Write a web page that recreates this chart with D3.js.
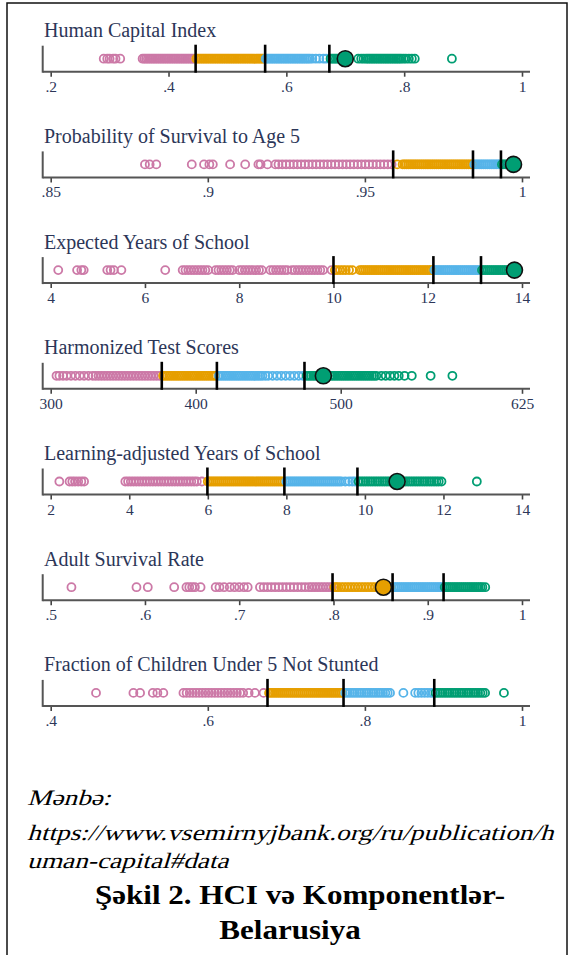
<!DOCTYPE html>
<html><head><meta charset="utf-8">
<script src="https://cdn.jsdelivr.net/npm/d3@7/dist/d3.min.js"></script>
<style>body{margin:0;background:#fff}svg{display:block}</style>
</head><body>
<svg id="chart" width="571" height="955"></svg>
<script>
// ---------- DATA ----------
const panelTitles = [
  "Human Capital Index",
  "Probability of Survival to Age 5",
  "Expected Years of School",
  "Harmonized Test Scores",
  "Learning-adjusted Years of School",
  "Adult Survival Rate",
  "Fraction of Children Under 5 Not Stunted"
];

const hciDomain = [0.2, 1];
const hciTicks = [0.2, 0.4, 0.6, 0.8, 1];
const hciTickLabels = [".2", ".4", ".6", ".8", "1"];
const hciQuartiles = [0.446, 0.564, 0.673];
const hciBelarus = 0.70;
const hciValues = [0.29,0.296,0.30,0.306,0.31,0.318,
  0.356,0.359,0.362,0.365,0.368,0.371,0.374,0.377,0.380,0.383,0.386,0.389,0.392,0.395,0.398,0.401,0.404,0.407,0.410,0.413,0.416,0.419,0.422,0.425,0.428,0.431,0.434,0.437,0.440,0.443,
  0.447,0.450,0.453,0.456,0.459,0.462,0.465,0.468,0.471,0.474,0.477,0.480,0.483,0.486,0.489,0.492,0.495,0.498,0.501,0.504,0.507,0.510,0.513,0.516,0.519,0.522,0.525,0.528,0.531,0.534,0.537,0.540,0.543,0.546,0.549,0.552,0.555,0.558,0.561,
  0.565,0.568,0.571,0.574,0.577,0.580,0.583,0.586,0.589,0.592,0.595,0.598,0.601,0.604,0.607,0.610,0.613,0.616,0.619,0.622,0.625,0.628,0.631,0.634,0.637,0.640,0.644,0.650,0.656,0.663,0.668,
  0.675,0.678,0.681,0.684,0.687,0.690,0.693,
  0.722,0.727,0.731,0.735,0.738,0.741,0.744,0.747,0.750,0.753,0.756,0.759,0.762,0.765,0.768,0.771,0.774,0.777,0.780,0.783,0.786,0.789,0.792,0.795,0.799,0.803,0.808,0.813,0.818,0.881];

const u5Domain = [0.85, 1];
const u5Ticks = [0.85, 0.9, 0.95, 1];
const u5TickLabels = [".85", ".9", ".95", "1"];
const u5Quartiles = [0.959, 0.9844, 0.9933];
const u5Belarus = 0.9973;
const u5Values = [0.880,0.8815,0.8836,0.8949,0.8988,0.9005,0.9016,0.9071,0.9119,0.9161,0.9168,0.919,
  0.9215,0.9225,0.9237,0.9249,0.9261,0.9273,0.9285,0.9297,0.9309,0.9321,0.9333,0.9345,0.9357,0.9369,0.9381,0.9393,0.9405,0.9417,0.9429,0.9441,0.9453,0.9465,0.9477,0.9489,0.9501,0.9513,0.9525,0.9537,0.9549,0.9561,0.9573,0.9585,
  0.9603,0.9620,0.9626,0.9632,0.9638,0.9644,0.9650,0.9656,0.9662,0.9668,0.9674,0.9680,0.9686,0.9692,0.9698,0.9704,0.9710,0.9716,0.9722,0.9728,0.9734,0.9740,0.9746,0.9752,0.9758,0.9764,0.9770,0.9776,0.9782,0.9788,0.9794,0.9800,0.9806,0.9812,0.9818,0.9824,0.9830,0.9836,0.9842,
  0.9848,0.9854,0.9860,0.9866,0.9872,0.9878,0.9884,0.9890,0.9896,0.9902,0.9908,0.9914,0.9920,0.9926,0.9931,
  0.9936,0.9942,0.9948,0.9954,0.9960,0.9966,0.9978,0.9983];

const eysDomain = [4, 14];
const eysTicks = [4, 6, 8, 10, 12, 14];
const eysTickLabels = ["4", "6", "8", "10", "12", "14"];
const eysQuartiles = [10.0, 12.12, 13.13];
const eysBelarus = 13.84;
const eysValues = [4.16,4.56,4.65,4.7,5.2,5.27,5.34,5.5,6.43,
  6.8,6.86,6.92,6.98,7.04,7.1,7.16,7.22,7.28,7.34,7.5,7.56,7.62,7.68,7.74,7.8,7.86,
  8.0,8.06,8.12,8.18,8.24,8.3,8.36,8.42,8.48,8.66,8.72,8.78,8.84,8.9,8.96,9.02,
  9.12,9.18,9.24,9.3,9.36,9.42,9.48,9.54,9.6,9.66,9.72,9.78,9.96,
  10.03,10.08,10.14,10.2,10.26,10.33,10.4,
  10.56,10.6,10.64,10.68,10.72,10.76,10.8,10.84,10.88,10.92,10.96,11.0,11.04,11.08,11.12,11.16,11.2,11.24,11.28,11.32,11.36,11.4,11.44,11.48,11.52,11.56,11.6,11.64,11.68,11.72,11.76,11.8,11.84,11.88,11.92,11.96,12.0,12.04,12.08,
  12.14,12.18,12.22,12.26,12.3,12.34,12.38,12.42,12.46,12.5,12.54,12.58,12.62,12.66,12.7,12.74,12.78,12.82,12.86,12.9,12.94,12.98,13.02,13.06,13.1,
  13.15,13.19,13.23,13.27,13.31,13.35,13.39,13.43,13.47,13.51,13.55,13.59,13.63,13.67,13.71,13.75,13.79,13.85,13.9];

const htsDomain = [300, 625];
const htsTicks = [300, 400, 500, 625];
const htsTickLabels = ["300", "400", "500", "625"];
const htsQuartiles = [376.6, 414.6, 475.0];
const htsBelarus = 488;
const htsValues = [304,306,308.5,311,314,317,320,323,326,329,331,333,335,337,339,341,343,345,347,349,351,353,355,357,359,361,363,365,367,369,371,373,375,
  377.5,379,380.5,382,383.5,385,386.5,388,389.5,391,392.5,394,395.5,397,398.5,400,401.5,403,404.5,406,407.5,409,410.5,412,413.5,
  416,417.5,419,420.5,422,423.5,425,426.5,428,429.5,431,432.5,434,435.5,437,438.5,440,441.5,443,444.5,446,448,450,453,456,459,462,465,468,471,474,
  476.5,478,479.5,481,482.5,484,486,491,493,494.5,496,497.5,499,500.5,502,503.5,505,506.5,508,509.5,511,512.5,514,515.5,517,518.5,520,521.5,523,524.5,
  528,531,534,537,540,544,549,562,577];

const laysDomain = [2, 14];
const laysTicks = [2, 4, 6, 8, 10, 12, 14];
const laysTickLabels = ["2", "4", "6", "8", "10", "12", "14"];
const laysQuartiles = [5.99, 7.95, 9.81];
const laysBelarus = 10.82;
const laysValues = [2.22,2.48,2.55,2.62,2.7,2.78,2.85,
  3.9,3.97,4.04,4.11,4.18,4.25,4.32,4.39,4.46,4.53,4.6,4.67,4.74,4.81,4.88,4.95,5.02,5.09,5.16,5.23,5.3,5.37,5.44,5.51,5.58,5.65,5.72,5.85,
  6.0,6.05,6.1,6.15,6.2,6.25,6.3,6.35,6.4,6.45,6.5,6.55,6.6,6.65,6.7,6.75,6.8,6.85,6.9,6.95,7.0,7.05,7.1,7.15,7.2,7.25,7.3,7.35,7.4,7.45,7.5,7.55,7.6,7.65,7.7,7.75,7.8,7.85,7.9,
  8.0,8.05,8.1,8.15,8.2,8.25,8.3,8.35,8.4,8.45,8.5,8.55,8.6,8.65,8.7,8.75,8.8,8.85,8.9,8.95,9.0,9.05,9.1,9.15,9.2,9.25,9.3,9.35,9.4,9.5,9.6,9.68,9.75,
  9.84,9.9,9.96,10.02,10.08,10.14,10.2,10.26,10.32,10.38,10.44,10.5,10.56,10.62,10.68,10.74,10.8,10.86,10.92,10.98,11.04,11.1,11.16,11.22,11.28,11.34,11.4,11.46,11.52,11.58,11.64,11.7,11.76,11.82,11.88,11.95,12.85];

const asrDomain = [0.5, 1];
const asrTicks = [0.5, 0.6, 0.7, 0.8, 0.9, 1];
const asrTickLabels = [".5", ".6", ".7", ".8", ".9", "1"];
const asrQuartiles = [0.799, 0.8627, 0.9168];
const asrBelarus = 0.853;
const asrValues = [0.522,0.591,0.603,0.631,0.644,0.647,0.65,0.653,0.659,
  0.675,0.679,0.684,0.69,0.695,0.7,0.705,0.709,
  0.722,0.726,0.73,0.734,0.738,0.742,0.746,0.75,0.754,0.758,0.762,0.766,0.77,0.774,0.777,0.78,0.783,0.786,0.789,0.792,0.795,0.798,
  0.801,0.803,0.805,0.808,0.811,0.814,0.817,0.82,0.823,0.826,0.829,0.832,0.835,0.838,0.841,0.844,0.847,0.85,0.856,0.859,0.861,
  0.864,0.866,0.868,0.87,0.872,0.874,0.876,0.878,0.88,0.882,0.884,0.886,0.888,0.89,0.892,0.894,0.896,0.898,0.9,0.902,0.904,0.906,0.908,0.91,0.912,0.914,0.916,
  0.918,0.92,0.922,0.924,0.926,0.928,0.93,0.932,0.934,0.936,0.938,0.94,0.942,0.944,0.946,0.948,0.95,0.952,0.954,0.956,0.958,0.961];

const stuntDomain = [0.4, 1];
const stuntTicks = [0.4, 0.6, 0.8, 1];
const stuntTickLabels = [".4", ".6", ".8", "1"];
const stuntQuartiles = [0.676, 0.7728, 0.8883];
const stuntBelarus = null;
const stuntValues = [0.4577,0.5053,0.5138,0.53,0.5358,0.5434,
  0.569,0.573,0.577,0.581,0.585,0.589,0.593,0.597,0.601,0.605,0.609,0.613,0.617,0.621,0.625,0.629,0.633,0.637,0.641,0.645,0.652,0.66,0.671,
  0.678,0.6805,0.683,0.6855,0.688,0.6905,0.693,0.6955,0.698,0.7005,0.703,0.7055,0.708,0.7105,0.713,0.7155,0.718,0.7205,0.723,0.7255,0.728,0.7305,0.733,0.7355,0.738,0.7405,0.743,0.7455,0.748,0.7505,0.753,0.7555,0.758,0.7605,0.763,0.7655,0.768,0.7705,
  0.775,0.778,0.781,0.784,0.787,0.79,0.793,0.796,0.799,0.802,0.805,0.808,0.811,0.814,0.817,0.82,0.823,0.826,0.829,0.832,0.849,0.864,0.868,0.872,0.876,0.88,0.884,0.887,
  0.89,0.893,0.896,0.899,0.902,0.905,0.908,0.911,0.914,0.917,0.92,0.923,0.926,0.929,0.932,0.935,0.938,0.941,0.944,0.947,0.95,0.953,0.977];

const quartileColors = ["#cc79a7", "#e69f00", "#56b4e9", "#009e73"];

const captionSource = "Mənbə:";
const captionUrl1 = "https://www.vsemirnyjbank.org/ru/publication/h";
const captionUrl2 = "uman-capital#data";
const captionTitle1 = "Şəkil 2. HCI və Komponentlər-";
const captionTitle2 = "Belarusiya";

// ---------- CHART ----------
const panels = [
  {domain: hciDomain, ticks: hciTicks, labels: hciTickLabels, quart: hciQuartiles, values: hciValues, country: hciBelarus},
  {domain: u5Domain, ticks: u5Ticks, labels: u5TickLabels, quart: u5Quartiles, values: u5Values, country: u5Belarus},
  {domain: eysDomain, ticks: eysTicks, labels: eysTickLabels, quart: eysQuartiles, values: eysValues, country: eysBelarus},
  {domain: htsDomain, ticks: htsTicks, labels: htsTickLabels, quart: htsQuartiles, values: htsValues, country: htsBelarus},
  {domain: laysDomain, ticks: laysTicks, labels: laysTickLabels, quart: laysQuartiles, values: laysValues, country: laysBelarus},
  {domain: asrDomain, ticks: asrTicks, labels: asrTickLabels, quart: asrQuartiles, values: asrValues, country: asrBelarus},
  {domain: stuntDomain, ticks: stuntTicks, labels: stuntTickLabels, quart: stuntQuartiles, values: stuntValues, country: stuntBelarus}
];
panels.forEach((p, i) => p.title = panelTitles[i]);

const svg = d3.select("#chart");
const textColor = "#2c3658";
const serif = "'Liberation Serif','Times New Roman',serif";

svg.append("rect").attr("x", 7).attr("y", 3).attr("width", 560).attr("height", 1000)
  .attr("fill", "none").attr("stroke", "#111").attr("stroke-width", 1.5);

const axisX0 = 42.7, axisX1 = 530;
const rangeX = [50.7, 522];
const firstAxisY = 71.7, panelStep = 105.7;

panels.forEach((p, i) => {
  const y0 = firstAxisY + i * panelStep;
  const g = svg.append("g").attr("transform", `translate(0,${y0})`);
  const x = d3.scaleLinear().domain(p.domain).range(rangeX);
  const color = d3.scaleThreshold().domain(p.quart).range(quartileColors);
  const dotY = -13;

  g.append("text").attr("x", 44).attr("y", -34.5)
    .attr("font-family", serif).attr("font-size", 20).attr("fill", textColor)
    .text(p.title);

  const axis = d3.axisBottom(x).tickValues(p.ticks)
    .tickFormat((d, k) => p.labels[k]).tickSize(5).tickPadding(4);
  const ag = g.append("g").call(axis);
  ag.select(".domain").remove();
  ag.selectAll(".tick line").attr("stroke", "#444").attr("stroke-width", 1.6);
  ag.selectAll(".tick text").attr("font-family", serif).attr("font-size", 15.5)
    .attr("fill", textColor);
  g.append("line").attr("x1", axisX0).attr("x2", axisX1).attr("y1", 0).attr("y2", 0)
    .attr("stroke", "#555").attr("stroke-width", 2);
  g.append("line").attr("x1", axisX0).attr("x2", axisX0).attr("y1", -26).attr("y2", 1)
    .attr("stroke", "#555").attr("stroke-width", 2);

  g.append("g").selectAll("circle").data(p.values).join("circle")
    .attr("cx", d => x(d)).attr("cy", dotY).attr("r", 4)
    .attr("fill", "none").attr("stroke", d => color(d)).attr("stroke-width", 1.8);

  g.append("g").selectAll("line").data(p.quart).join("line")
    .attr("x1", d => x(d)).attr("x2", d => x(d)).attr("y1", -27).attr("y2", 1)
    .attr("stroke", "#000").attr("stroke-width", 2.6);

  if (p.country !== null) {
    g.append("circle").attr("cx", x(p.country)).attr("cy", dotY).attr("r", 8)
      .attr("fill", color(p.country)).attr("stroke", "#111").attr("stroke-width", 1.6);
  }
});

// caption (stretched horizontally like the reference; italic simulated by skew)
const cap = svg.append("g").attr("font-family", serif).attr("fill", "#000");
const italicLine = (txt, x, y) => cap.append("text")
  .attr("transform", `translate(${x},${y}) scale(1.24,1) skewX(-14)`)
  .attr("font-size", 22).text(txt);
italicLine(captionSource, 27, 805);
italicLine(captionUrl1, 27, 840);
italicLine(captionUrl2, 27, 868);
cap.append("text").attr("transform", "translate(300,904) scale(1.15,1)")
  .attr("font-size", 27).attr("font-weight", "bold")
  .attr("text-anchor", "middle").text(captionTitle1);
cap.append("text").attr("transform", "translate(290,939) scale(1.15,1)")
  .attr("font-size", 27).attr("font-weight", "bold")
  .attr("text-anchor", "middle").text(captionTitle2);
</script>
</body></html>
